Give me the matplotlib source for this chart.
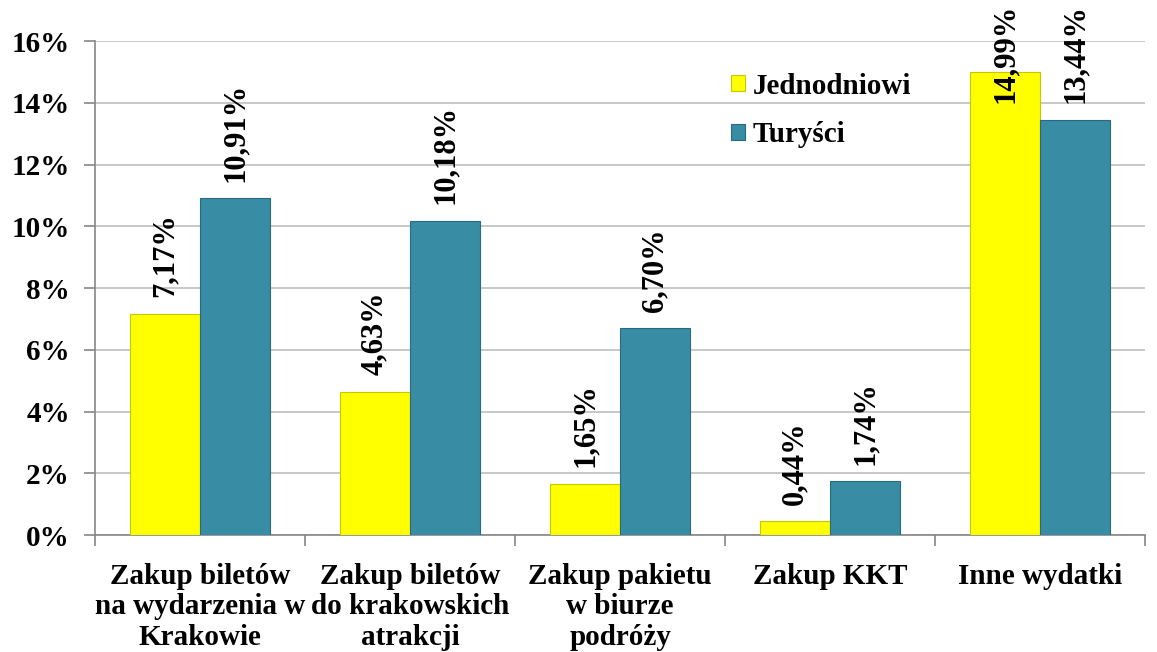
import numpy as np
import matplotlib.pyplot as plt
from matplotlib.ticker import FuncFormatter

# dane
kategorie = ["Zakup biletów\nna wydarzenia w\nKrakowie",
             "Zakup biletów\ndo krakowskich\natrakcji",
             "Zakup pakietu\nw biurze\npodróży",
             "Zakup KKT",
             "Inne wydatki"]
jednodniowi = [7.17, 4.63, 1.65, 0.44, 14.99]
turysci = [10.91, 10.18, 6.70, 1.74, 13.44]
serie = ["Jednodniowi", "Turyści"]

plt.rcParams['font.family'] = ['Liberation Serif', 'DejaVu Serif']
plt.rcParams['font.weight'] = 'bold'

fig = plt.figure(figsize=(11.57, 6.52), dpi=100)
ax = fig.add_axes([0.082, 0.1794, 0.908, 0.7576])

x = np.arange(len(kategorie))
w = 1 / 3
kolory = ["#FFFF00", "#388CA4"]
krawedz = ["#C8C800", "#2A6A7E"]

b1 = ax.bar(x - w / 2, jednodniowi, w, color=kolory[0], edgecolor=krawedz[0],
            linewidth=0.8, label=serie[0], zorder=3)
b2 = ax.bar(x + w / 2, turysci, w, color=kolory[1], edgecolor=krawedz[1],
            linewidth=0.8, label=serie[1], zorder=3)

# etykiety wartości (pionowe), przycięte do górnej krawędzi
for bars, vals in [(b1, jednodniowi), (b2, turysci)]:
    for r, v in zip(bars, vals):
        y = min(v, 13.44)
        ax.annotate(f"{v:.2f}%".replace(".", ","), (r.get_x() + r.get_width() / 2, y),
                    xytext=(0, 12), textcoords="offset points", rotation=90,
                    ha="center", va="bottom", fontsize=22, fontweight="bold",
                    annotation_clip=False, zorder=5)

ax.set_ylim(0, 16)
ax.set_xlim(-0.5, 4.5)
ax.set_yticks(np.arange(0, 17, 2))
ax.yaxis.set_major_formatter(FuncFormatter(lambda v, p: f"{v:.0f}%"))
ax.grid(axis="y", color="#BFBFBF", linewidth=1.2, zorder=0)

ax.set_xticks(x)
ax.set_xticklabels(kategorie, fontsize=21, fontweight="bold", linespacing=1.17)
ax.set_xticks(np.arange(-0.5, 5, 1), minor=True)
ax.tick_params(axis="x", which="major", length=0, pad=20)
ax.tick_params(axis="x", which="minor", length=8, color="#868686", width=1.2)
ax.tick_params(axis="y", length=8, color="#868686", width=1.2, labelsize=21, pad=10)

for s in ["top", "right"]:
    ax.spines[s].set_visible(False)
for s in ["left", "bottom"]:
    ax.spines[s].set_color("#868686")
    ax.spines[s].set_linewidth(1.2)

leg = ax.legend(loc="upper left", bbox_to_anchor=(0.594, 0.96), frameon=False,
                fontsize=21, handlelength=0.5, handleheight=0.5,
                handletextpad=0.25, labelspacing=0.75, borderaxespad=0)
for t in leg.get_texts():
    t.set_fontweight("bold")

fig.savefig("out.png", dpi=100)
